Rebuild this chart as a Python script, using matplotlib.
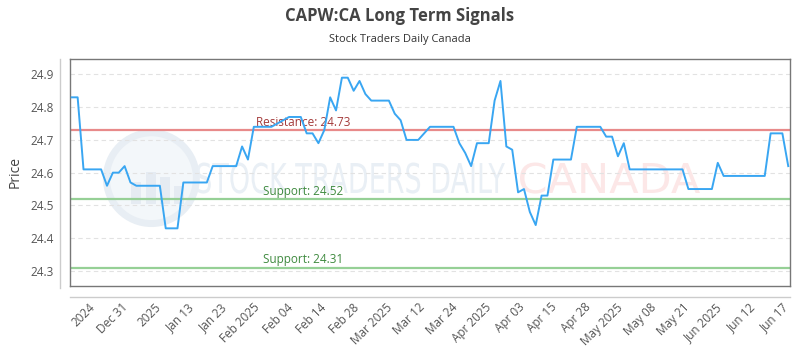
import numpy as np
import matplotlib
matplotlib.use("Agg")
import matplotlib.pyplot as plt
from matplotlib.patches import Ellipse, PathPatch
from matplotlib.lines import Line2D
from matplotlib.textpath import TextPath
from matplotlib.font_manager import FontProperties
from matplotlib.transforms import Affine2D, IdentityTransform

# Daily closing prices (one value per trading session)
prices = [24.83, 24.83, 24.61, 24.61, 24.61, 24.61, 24.56, 24.60, 24.60, 24.62,
          24.57, 24.56, 24.56, 24.56, 24.56, 24.56, 24.43, 24.43, 24.43, 24.57,
          24.57, 24.57, 24.57, 24.57, 24.62, 24.62, 24.62, 24.62, 24.62, 24.68,
          24.64, 24.74, 24.74, 24.74, 24.74, 24.75, 24.76, 24.77, 24.77, 24.77,
          24.72, 24.72, 24.69, 24.73, 24.83, 24.79, 24.89, 24.89, 24.85, 24.88,
          24.84, 24.82, 24.82, 24.82, 24.82, 24.78, 24.76, 24.70, 24.70, 24.70,
          24.72, 24.74, 24.74, 24.74, 24.74, 24.74, 24.69, 24.66, 24.62, 24.69,
          24.69, 24.69, 24.82, 24.88, 24.68, 24.67, 24.54, 24.55, 24.48, 24.44,
          24.53, 24.53, 24.64, 24.64, 24.64, 24.64, 24.74, 24.74, 24.74, 24.74,
          24.74, 24.71, 24.71, 24.65, 24.69, 24.61, 24.61, 24.61, 24.61, 24.61,
          24.61, 24.61, 24.61, 24.61, 24.61, 24.55, 24.55, 24.55, 24.55, 24.55,
          24.63, 24.59, 24.59, 24.59, 24.59, 24.59, 24.59, 24.59, 24.59, 24.72,
          24.72, 24.72, 24.62]

resistance = 24.73
supports = [24.52, 24.31]

date_labels = ["2024", "Dec 31", "2025", "Jan 13", "Jan 23", "Feb 2025", "Feb 04",
               "Feb 14", "Feb 28", "Mar 2025", "Mar 12", "Mar 24", "Apr 2025",
               "Apr 03", "Apr 15", "Apr 28", "May 2025", "May 08", "May 21",
               "Jun 2025", "Jun 12", "Jun 17"]
y_ticks = [24.3, 24.4, 24.5, 24.6, 24.7, 24.8, 24.9]

plt.rcParams['font.family'] = ['Open Sans', 'DejaVu Sans']

fig = plt.figure(figsize=(8, 3.5), dpi=100)
ax = fig.add_axes([0.0875, 0.1829, 0.9, 0.6485])

x = np.arange(len(prices))


def squeezed_text(txt, left, baseline, width, cap, color):
    # narrow block lettering drawn as a path, squeezed to a given pixel width
    tp = TextPath((0, 0), txt, size=cap / 0.73, prop=FontProperties(family='DejaVu Sans'))
    ext = tp.get_extents()
    sx = width / ext.width
    tr = Affine2D().translate(-ext.x0, 0).scale(sx, 1.0).translate(left, fig.bbox.height - baseline)
    ax.add_artist(PathPatch(tr.transform_path(tp), transform=IdentityTransform(),
                            facecolor=color, edgecolor='none', zorder=0.5))


# Watermark: logo circle and brand text
ax.add_patch(Ellipse((0.113, 0.475), 0.125, 0.40, transform=ax.transAxes,
                     facecolor='#f3f7fa', edgecolor='#e8eef4', lw=5, zorder=0))
for bx, bh in [(0.085, 0.10), (0.105, 0.14), (0.125, 0.12), (0.145, 0.08)]:
    ax.add_patch(plt.Rectangle((bx, 0.36), 0.014, bh, transform=ax.transAxes,
                               facecolor='#e5ebf2', edgecolor='none', zorder=0))
squeezed_text("STOCK TRADERS DAILY", 197, 193, 308, 30, '#e9eff5')
squeezed_text("CANADA", 520, 193, 180, 30, '#fce7e7')

# Resistance and support levels
ax.axhline(resistance, color='#e88a8a', lw=1.6, zorder=2)
ax.text(0.324, resistance + 0.004, f"Resistance: {resistance:.2f}", transform=ax.get_yaxis_transform(),
        ha='center', va='bottom', fontsize=8.5, color='#a33a3a', zorder=3)
for s in supports:
    ax.axhline(s, color='#96d096', lw=1.6, zorder=2)
    ax.text(0.324, s + 0.004, f"Support: {s:.2f}", transform=ax.get_yaxis_transform(),
            ha='center', va='bottom', fontsize=8.5, color='#3f8a3f', zorder=3)

# Price line
ax.plot(x, prices, color='#39a6f2', lw=1.4, zorder=4)

ax.set_xlim(-0.3, 122.3)
ax.set_ylim(24.254, 24.947)

ax.set_yticks(y_ticks)
ax.set_yticklabels([f"{v:.1f}" for v in y_ticks])
ax.grid(axis='y', color='#e2e2e2', linestyle=(0, (4, 3)), lw=0.8)
ax.set_axisbelow(True)

tick_pos = np.linspace(3.6, 121.7, len(date_labels))
ax.set_xticks(tick_pos)
ax.set_xticklabels(date_labels, rotation=45, ha='right', va='center',
                   rotation_mode='anchor')

ax.tick_params(axis='both', length=0, labelsize=8.5, colors='#555555')
ax.tick_params(axis='y', pad=12)
ax.tick_params(axis='x', pad=14)
for sp in ax.spines.values():
    sp.set_color('#777777')
    sp.set_linewidth(1)

ax.set_ylabel("Price", fontsize=10, color='#444444')
ax.yaxis.set_label_coords(-0.066, 0.5)

# Outer axis rules
fig.add_artist(Line2D([0.075, 0.075], [0.177, 0.831], color='#cccccc', lw=1))
fig.add_artist(Line2D([0.0875, 0.9875], [0.151, 0.151], color='#cccccc', lw=1))

fig.text(0.5, 0.955, "CAPW:CA Long Term Signals", ha='center', va='center',
         fontsize=12, fontweight='bold', color='#444444')
fig.text(0.5, 0.888, "Stock Traders Daily Canada", ha='center', va='center',
         fontsize=8, color='#333333')

plt.savefig("out.png", dpi=100)
